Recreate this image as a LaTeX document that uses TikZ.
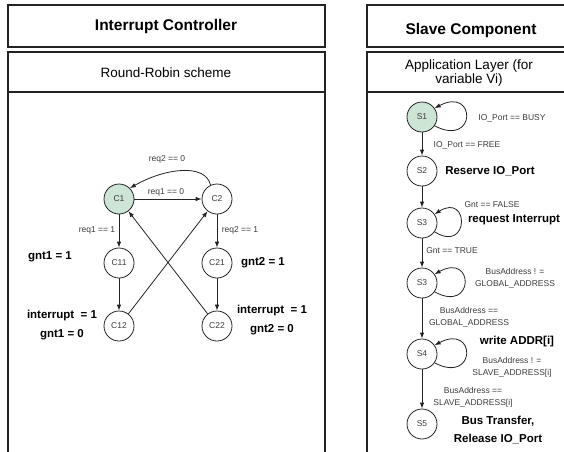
\documentclass[tikz,border=0pt]{standalone}
\usepackage{fontspec}
\setmainfont{Liberation Sans}
\usetikzlibrary{arrows.meta}
\definecolor{stategreen}{RGB}{204,229,212}
\definecolor{linegray}{RGB}{35,35,35}
\definecolor{textgray}{RGB}{60,60,60}
\begin{document}
\begin{tikzpicture}[x=1pt,y=-1pt,
    state/.style={circle,draw=linegray,line width=0.8pt,minimum size=30pt,inner sep=0pt,
      font=\fontsize{8.5}{10}\selectfont,text=textgray},
    start/.style={state,fill=stategreen},
    arr/.style={-{Latex[length=6pt,width=4.5pt]},line width=0.8pt,draw=linegray},
    cond/.style={font=\fontsize{8.5}{12}\selectfont,text=textgray,align=center,inner sep=0pt},
    act/.style={font=\bfseries\fontsize{11.5}{18.5}\selectfont,align=center,inner sep=0pt},
    frame/.style={draw=linegray,line width=1.2pt},
    head/.style={font=\bfseries\fontsize{15.5}{18}\selectfont,inner sep=0pt},
    sub/.style={font=\fontsize{13.5}{14.5}\selectfont,align=center,inner sep=0pt}]
    \useasboundingbox (0,0) rectangle (564,451);
    \clip (0,0) rectangle (564,451);
    % frames
    \draw[frame] (8,5) rectangle (325,47);
    \draw[frame] (8,52) rectangle (325,480);
    \draw[frame] (8,92) -- (325,92);
    \draw[frame] (367,5) rectangle (575,47);
    \draw[frame] (367,52) rectangle (575,480);
    \draw[frame] (367,92) -- (575,92);
    \node[head] (ichead) at (166,26) {Interrupt Controller};
    \node[sub] (icsub) at (166,73) {Round-Robin scheme};
    \node[head] (schead) at (471,30) {Slave Component};
    \node[sub] (scsub) at (469,73) {Application Layer (for\\variable Vi)};
    % interrupt controller
    \node[start] (C1) at (119,199) {C1};
    \node[state] (C2) at (217,199) {C2};
    \node[state] (C11) at (119,263) {C11};
    \node[state] (C21) at (217,263) {C21};
    \node[state] (C12) at (119,326) {C12};
    \node[state] (C22) at (217,326) {C22};
    \foreach \a/\b in {C1/C2,C1/C11,C11/C12,C2/C21,C21/C22,C12/C2,C22/C1}
        \draw[arr] (\a) -- (\b);
    \draw[arr] (C2.115) .. controls +(-5,-22) and +(35,-20) .. (C1.45);
    \node[cond] (req20) at (167,159) {req2 == 0};
    \node[cond] (req10) at (166,192) {req1 == 0};
    \node[cond] (req11) at (97,230) {req1 == 1};
    \node[cond] (req21) at (240,230) {req2 == 1};
    \node[act] (gnt11) at (50,257) {gnt1 = 1};
    \node[act] (gnt21) at (263,263) {gnt2 = 1};
    \node[act] (gnt10) at (62,325) {interrupt~ = 1\\gnt1 = 0};
    \node[act] (gnt20) at (272,320) {interrupt~ = 1\\gnt2 = 0};
    % slave component
    \node[start] (S1) at (422,117) {S1};
    \foreach \n/\t/\y in {S2/S2/171,S3a/S3/223,S3b/S3/283,S4/S4/354,S5/S5/424}
        \node[state] (\n) at (422,\y) {\t};
    \foreach \a/\b in {S1/S2,S2/S3a,S3a/S3b,S3b/S4,S4/S5}
        \draw[arr] (\a) -- (\b);
    \foreach \n/\w in {S1/42,S3a/35,S3b/40,S4/42}
        \draw[arr] (\n.-35) .. controls +(\w,22) and +(\w,-22) .. (\n.35);
    \node[cond] (busy) at (512,118) {IO\_Port == BUSY};
    \node[cond] (free) at (467,145) {IO\_Port == FREE};
    \node[act] (reserve) at (490,171) {Reserve IO\_Port};
    \node[cond] (gntf) at (492,205) {Gnt == FALSE};
    \node[act] (request) at (514,220) {request Interrupt};
    \node[cond] (gntt) at (452,251) {Gnt == TRUE};
    \node[cond] (globne) at (515,278) {BusAddress ! =\\GLOBAL\_ADDRESS};
    \node[cond] (globeq) at (469,317) {BusAddress ==\\GLOBAL\_ADDRESS};
    \node[act] (write) at (517,342) {write ADDR[i]};
    \node[cond] (slavene) at (512,367) {BusAddress ! =\\SLAVE\_ADDRESS[i]};
    \node[cond] (slaveeq) at (473,397) {BusAddress ==\\SLAVE\_ADDRESS[i]};
    \node[act] (transfer) at (498,430) {Bus Transfer,\\Release IO\_Port};
\end{tikzpicture}
\end{document}
